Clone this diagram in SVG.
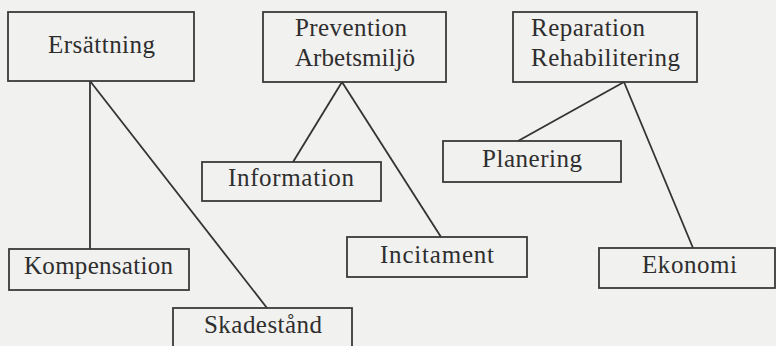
<svg xmlns="http://www.w3.org/2000/svg" width="776" height="346" viewBox="0 0 776 346">
<style>
.box{fill:none;stroke:#3a3a3a;stroke-width:1.8}
.lbl{font-family:"Liberation Serif","DejaVu Serif",serif;font-size:25px;fill:#2e2e2e}
.con{stroke:#333;stroke-width:1.8;fill:none}
</style>
<rect width="776" height="346" fill="#f1f1ef"/>
<g id="connectors">
<line class="con" x1="90" y1="81" x2="90" y2="249"/>
<line class="con" x1="90" y1="81" x2="267" y2="308"/>
<line class="con" x1="342" y1="82" x2="293" y2="162"/>
<line class="con" x1="342" y1="82" x2="441" y2="237"/>
<line class="con" x1="624" y1="82" x2="518" y2="141"/>
<line class="con" x1="624" y1="82" x2="693" y2="248"/>
</g>
<g id="ersattning"><rect class="box" x="8" y="12" width="186" height="69"/><text class="lbl" x="48" y="53" textLength="107" lengthAdjust="spacing">Ersättning</text></g>
<g id="prevention"><rect class="box" x="263" y="12" width="183" height="70"/><text class="lbl" x="295" y="36" textLength="112" lengthAdjust="spacing">Prevention</text><text class="lbl" x="295" y="66" textLength="120" lengthAdjust="spacing">Arbetsmiljö</text></g>
<g id="reparation"><rect class="box" x="513" y="12" width="184" height="70"/><text class="lbl" x="531" y="36" textLength="114" lengthAdjust="spacing">Reparation</text><text class="lbl" x="531" y="66" textLength="149" lengthAdjust="spacing">Rehabilitering</text></g>
<g id="information"><rect class="box" x="202" y="162" width="179" height="39"/><text class="lbl" x="228" y="186" textLength="126" lengthAdjust="spacing">Information</text></g>
<g id="planering"><rect class="box" x="443" y="141" width="178" height="41"/><text class="lbl" x="482" y="167" textLength="100" lengthAdjust="spacing">Planering</text></g>
<g id="incitament"><rect class="box" x="347" y="237" width="180" height="40"/><text class="lbl" x="380" y="263" textLength="114" lengthAdjust="spacing">Incitament</text></g>
<g id="ekonomi"><rect class="box" x="599" y="248" width="176" height="40"/><text class="lbl" x="642" y="273" textLength="95" lengthAdjust="spacing">Ekonomi</text></g>
<g id="kompensation"><rect class="box" x="9" y="249" width="180" height="41"/><text class="lbl" x="24" y="274" textLength="149" lengthAdjust="spacing">Kompensation</text></g>
<g id="skadestand"><rect class="box" x="173" y="308" width="179" height="44"/><text class="lbl" x="204" y="333" textLength="118" lengthAdjust="spacing">Skadestånd</text></g>
</svg>
